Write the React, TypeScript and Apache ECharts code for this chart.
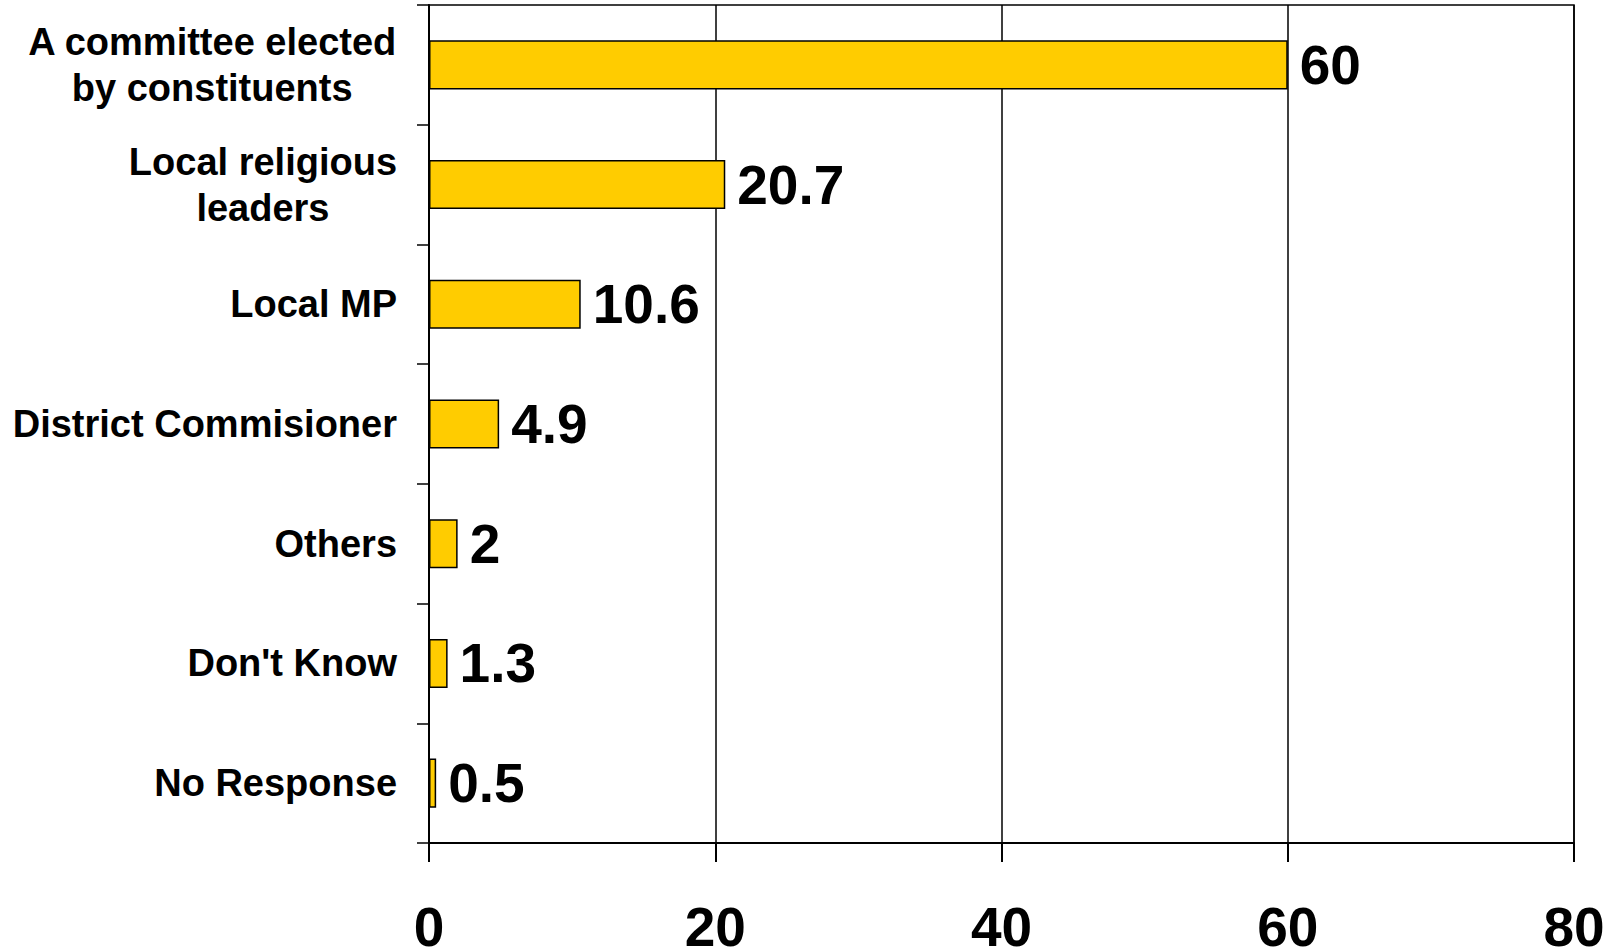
import React, { useEffect, useRef } from "react";
import * as echarts from "echarts";

const categories = [
  "A committee elected\nby constituents",
  "Local religious\nleaders",
  "Local MP",
  "District Commisioner",
  "Others",
  "Don't Know",
  "No Response",
];
const values = [60, 20.7, 10.6, 4.9, 2, 1.3, 0.5];
const xTicks = { min: 0, max: 80, interval: 20 };

const FONT = "'Liberation Sans', Arial, sans-serif";

export default function App() {
  const ref = useRef<HTMLDivElement>(null);
  useEffect(() => {
    if (!ref.current) return;
    const chart = echarts.init(ref.current, undefined, { renderer: "svg" });
    chart.setOption({
      animation: false,
      backgroundColor: "#ffffff",
      grid: {
        left: 429,
        top: 5,
        right: 44,
        bottom: 107,
        show: true,
        borderColor: "#000",
        borderWidth: 1.5,
        containLabel: false,
        outerBoundsMode: "none",
      },
      xAxis: {
        type: "value",
        min: xTicks.min,
        max: xTicks.max,
        interval: xTicks.interval,
        axisLine: { show: true, lineStyle: { color: "#000", width: 2 } },
        axisTick: { show: true, length: 19, lineStyle: { color: "#000", width: 2 } },
        splitLine: { show: true, lineStyle: { color: "#000", width: 1.5 } },
        axisLabel: {
          color: "#000",
          fontFamily: FONT,
          fontWeight: "bold",
          fontSize: 55,
          lineHeight: 30,
          margin: 69,
        },
      },
      yAxis: {
        type: "category",
        data: categories,
        inverse: true,
        axisLine: { show: true, lineStyle: { color: "#000", width: 2 } },
        axisTick: { show: true, length: 12, lineStyle: { color: "#000", width: 1.5 } },
        axisLabel: {
          color: "#000",
          fontFamily: FONT,
          fontWeight: "bold",
          fontSize: 38,
          lineHeight: 46,
          margin: 32,
          align: "right",
          formatter: (v: string) =>
            v
              .split("\n")
              .map((l) => "{c|" + l + "}")
              .join("\n"),
          rich: {
            c: {
              align: "center",
              color: "#000",
              fontFamily: FONT,
              fontWeight: "bold",
              fontSize: 38,
              lineHeight: 46,
            },
          },
        },
      },
      series: [
        {
          type: "bar",
          data: values,
          barWidth: "41%",
          itemStyle: { color: "#FFCC00", borderColor: "#000", borderWidth: 1.5 },
          label: {
            show: true,
            position: "right",
            distance: 12,
            color: "#000",
            fontFamily: FONT,
            fontWeight: "bold",
            fontSize: 55,
          },
        },
      ],
    });
    return () => chart.dispose();
  }, []);
  return (
    <div
      ref={ref}
      style={{ position: "fixed", left: 0, top: 0, width: 1618, height: 950 }}
    />
  );
}
